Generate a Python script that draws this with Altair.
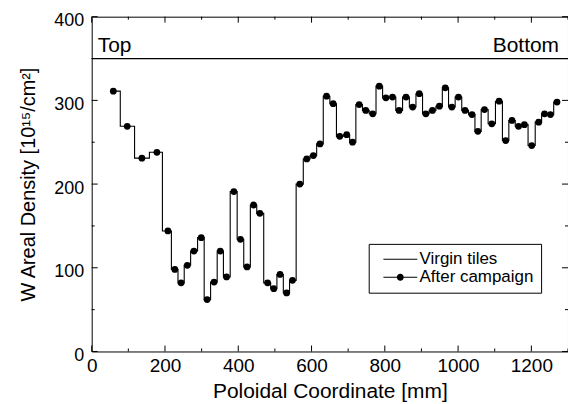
import altair as alt
import pandas as pd

# ---- data ----
x_mm = [59, 97, 137, 178, 208, 227, 244, 261, 279, 299, 315, 334, 351, 368, 388, 406,
        424, 442, 459, 480, 497, 514, 532, 548, 568, 587, 605, 623, 641, 659, 677, 696,
        712, 730, 748, 767, 785, 803, 821, 839, 858, 876, 894, 912, 930, 949, 965, 983,
        1001, 1019, 1038, 1054, 1072, 1092, 1112, 1130, 1147, 1165, 1181, 1201, 1220, 1236, 1252, 1270]
density = [311, 269, 231, 238, 144, 98, 82, 103, 120, 136, 62, 83, 120, 89, 191, 134,
           101, 175, 165, 82, 75, 92, 70, 85, 200, 230, 234, 248, 305, 296, 257, 259,
           250, 295, 288, 284, 317, 303, 304, 288, 304, 292, 308, 284, 288, 293, 315, 292,
           304, 288, 283, 263, 289, 272, 299, 252, 276, 269, 271, 246, 274, 284, 283, 298]
virgin_x = [0, 1300]
virgin_y = [350, 350]
series_names = ["Virgin tiles", "After campaign"]
side_labels = ["Top", "Bottom"]
x_label_values = [0, 200, 400, 600, 800, 1000, 1200]
y_label_values = [0, 100, 200, 300, 400]
x_tick_values = list(range(0, 1301, 100))
y_tick_values = list(range(0, 401, 50))

W, H = 478, 336
FONT = "Liberation Sans"
MAJ, MIN = 6, 3

df = pd.DataFrame({"x": x_mm, "y": density, "series": series_names[1]})
vdf = pd.DataFrame({"x": virgin_x, "y": virgin_y, "series": series_names[0]})

xs = alt.Scale(domain=[0, 1300], nice=False, zero=False)
ys = alt.Scale(domain=[0, 400], nice=False, zero=False)

x_axis = alt.Axis(values=x_label_values, format="d", ticks=False, tickSize=0, domain=False,
                  grid=False, labelFont=FONT, labelFontSize=19, labelColor="black",
                  labelPadding=5, labelFlush=False, labelOverlap=False,
                  title="Poloidal Coordinate [mm]", titleFont=FONT, titleFontSize=21,
                  titleFontWeight="normal", titleColor="black", titleBaseline="alphabetic",
                  titleY=46)
y_axis = alt.Axis(values=y_label_values, format="d", ticks=False, tickSize=0, domain=False,
                  grid=False, labelFont=FONT, labelFontSize=18, labelColor="black",
                  labelPadding=8, labelFlush=False, labelOverlap=False,
                  labelBaseline="alphabetic", labelOffset=9,
                  title="W Areal Density [10¹⁵/cm²]", titleFont=FONT, titleFontSize=20,
                  titleFontWeight="normal", titleColor="black", titleBaseline="alphabetic",
                  titleX=-57, titleAngle=270)

def X(f):
    return alt.X(f, scale=xs, axis=x_axis)

def Y(f):
    return alt.Y(f, scale=ys, axis=y_axis)

virgin = alt.Chart(vdf).mark_line(color="black", strokeWidth=1.3).encode(x=X("x:Q"), y=Y("y:Q"))
step = alt.Chart(df).mark_line(color="black", strokeWidth=1.1, interpolate="step").encode(
    x=X("x:Q"), y=Y("y:Q"))
pts = alt.Chart(df).mark_circle(color="black", size=46, opacity=1).encode(x=X("x:Q"), y=Y("y:Q"))

# legend symbols drawn as filled custom paths (unit = sqrt(size)/2 = 7.5 px)
BAR = "M-0.1,-0.07L4.43,-0.07L4.43,0.07L-0.1,0.07Z"
PATH_LINE = BAR
PATH_DOT = BAR + "M2.63,0A0.47,0.47,0,1,1,1.69,0A0.47,0.47,0,1,1,2.63,0Z"
legend_layer = alt.Chart(df).mark_point(filled=True, size=0, color="black").encode(
    x=X("x:Q"), y=Y("y:Q"),
    shape=alt.Shape("series:N",
                    scale=alt.Scale(domain=series_names, range=[PATH_LINE, PATH_DOT]),
                    legend=alt.Legend(title=None, orient="none", legendX=278, legendY=228,
                                      strokeColor="black", fillColor="white", padding=7,
                                      cornerRadius=0,
                                      symbolSize=225, symbolStrokeWidth=0,
                                      symbolFillColor="black", symbolStrokeColor="black",
                                      symbolOpacity=1, labelFont=FONT, labelFontSize=17,
                                      labelColor="black", labelOffset=27, rowPadding=0)),
)

top_txt = alt.Chart(pd.DataFrame({"t": [side_labels[0]]})).mark_text(
    font=FONT, fontSize=21, color="black", align="left", baseline="alphabetic", dx=6, dy=-7
).encode(x=alt.datum(virgin_x[0], scale=xs, axis=x_axis),
         y=alt.datum(virgin_y[0], scale=ys, axis=y_axis), text="t:N")
bot_txt = alt.Chart(pd.DataFrame({"t": [side_labels[1]]})).mark_text(
    font=FONT, fontSize=21, color="black", align="right", baseline="alphabetic", dx=-9, dy=-7
).encode(x=alt.datum(virgin_x[1], scale=xs, axis=x_axis),
         y=alt.datum(virgin_y[1], scale=ys, axis=y_axis), text="t:N")

xt = pd.DataFrame({"pos": x_tick_values})
yt = pd.DataFrame({"pos": y_tick_values})
xt_maj = xt[xt.pos % 200 == 0]
xt_min = xt[xt.pos % 200 != 0]
yt_maj = yt[yt.pos % 100 == 0]
yt_min = yt[yt.pos % 100 != 0]

def xticks(d, y0, y1):
    return alt.Chart(d).mark_rule(color="black", strokeWidth=1).encode(
        x=X("pos:Q"), y=alt.value(y0), y2=alt.value(y1))

def yticks(d, x0, x1):
    return alt.Chart(d).mark_rule(color="black", strokeWidth=1).encode(
        y=Y("pos:Q"), x=alt.value(x0), x2=alt.value(x1))

ticks = [
    xticks(xt_maj, H, H - MAJ), xticks(xt_min, H, H - MIN),
    xticks(xt_maj, 0, MAJ), xticks(xt_min, 0, MIN),
    yticks(yt_maj, 0, MAJ), yticks(yt_min, 0, MIN),
    yticks(yt_maj, W, W - MAJ), yticks(yt_min, W, W - MIN),
]

chart = alt.layer(virgin, step, pts, legend_layer, top_txt, bot_txt, *ticks).properties(
    width=W, height=H,
    padding={"left": 84, "top": 8, "right": 0, "bottom": 52},
    autosize=alt.AutoSizeParams(type="none"),
).configure_view(stroke="black", strokeWidth=1)

chart.save("out.html", embed_options={"renderer": "svg", "actions": False})
